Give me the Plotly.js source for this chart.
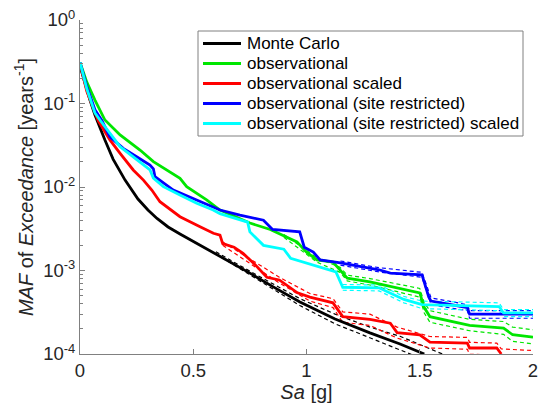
<!DOCTYPE html>
<html>
<head>
<meta charset="utf-8">
<script src="https://cdn.plot.ly/plotly-3.0.1.min.js"></script>
<style>html,body{margin:0;padding:0;background:#fff;}#chart{width:542px;height:406px;}</style>
</head>
<body>
<div id="chart"></div>
<script>
// ---- Data (Sa [g] vs MAF of exceedance) ----
const seriesNames = ["Monte Carlo", "observational", "observational scaled",
  "observational (site restricted)", "observational (site restricted) scaled"];
const seriesColors = ["#000000", "#00e600", "#ff0000", "#0000ff", "#00ffff"];

// Monte Carlo
const mcX = [0, 0.022, 0.044, 0.066, 0.088, 0.11, 0.146, 0.199, 0.256, 0.3, 0.34, 0.389, 0.4415, 0.53, 0.64, 0.75, 0.861, 0.971, 1.126, 1.28, 1.413, 1.52];
const mcY = [0.28, 0.171, 0.11, 0.0728, 0.0509, 0.0366, 0.0216, 0.0121, 0.00718, 0.0053, 0.0042, 0.00332, 0.00274, 0.00202, 0.00137, 0.00093, 0.00062, 0.00042, 0.000263, 0.000179, 0.000132, 0.0001];
const mcCiX = [0.6, 0.75, 0.971, 1.126, 1.28, 1.413, 1.6];
const mcUp = [0.00168, 0.00098, 0.00046, 0.0003, 0.00021, 0.000163, 0.0001];
const mcLo = [0.00158, 0.00088, 0.00038, 0.00023, 0.000155, 0.000112, 0.00007];

// observational
const obsX = [0, 0.03, 0.066, 0.11, 0.177, 0.265, 0.324, 0.4415, 0.471, 0.559, 0.618, 0.75, 0.84, 0.958, 1.0, 1.046, 1.117, 1.148, 1.18, 1.28, 1.426, 1.5, 1.52, 1.545, 1.72, 1.87, 1.91, 2.0];
const obsY = [0.31, 0.18, 0.11, 0.0634, 0.042, 0.0277, 0.0201, 0.0127, 0.0101, 0.007, 0.0053, 0.0037, 0.0031, 0.0022, 0.00166, 0.00134, 0.00126, 0.00102, 0.00081, 0.00073, 0.00059, 0.00054, 0.00036, 0.00028, 0.00022, 0.000204, 0.00017, 0.000159];
const obsCiX = [0.9, 1.0, 1.046, 1.148, 1.18, 1.28, 1.426, 1.5, 1.52, 1.545, 1.72, 1.87, 1.91, 2.0];
const obsUp = [0.0027, 0.00175, 0.00142, 0.00109, 0.00088, 0.0008, 0.00066, 0.00061, 0.00041, 0.00033, 0.00026, 0.000245, 0.00021, 0.000195];
const obsLo = [0.0025, 0.00157, 0.00126, 0.00095, 0.00075, 0.00067, 0.00053, 0.00048, 0.00031, 0.00024, 0.00019, 0.000172, 0.000142, 0.000132];

// observational scaled
const scX = [0, 0.03, 0.081, 0.132, 0.177, 0.235, 0.28, 0.317, 0.353, 0.4415, 0.53, 0.589, 0.618, 0.63, 0.68, 0.72, 0.77, 0.825, 0.88, 0.96, 1.015, 1.117, 1.16, 1.28, 1.37, 1.4, 1.5, 1.545, 1.71, 1.72, 1.84, 1.86];
const scY = [0.3, 0.14, 0.062, 0.0366, 0.0253, 0.016, 0.0121, 0.0092, 0.00667, 0.00441, 0.00335, 0.00279, 0.00265, 0.0021, 0.0019, 0.0016, 0.0012, 0.00083, 0.00077, 0.00054, 0.00048, 0.00041, 0.00028, 0.00026, 0.000234, 0.00018, 0.00017, 0.000139, 0.000135, 0.000118, 0.000118, 0.0001];
const scCiX = [0.63, 0.77, 0.88, 1.015, 1.117, 1.16, 1.28, 1.4, 1.545, 1.71, 1.72, 1.84, 1.86, 2.0];
const scUp = [0.0022, 0.00127, 0.00083, 0.00053, 0.00046, 0.00032, 0.0003, 0.00021, 0.000162, 0.000158, 0.000138, 0.000135, 0.000115, 0.00011];
const scLo = [0.002, 0.00113, 0.00071, 0.00043, 0.00036, 0.00024, 0.00022, 0.000155, 0.000118, 0.000114, 0.000099, 0.000098, 0.00008, 0.00008];

// observational (site restricted)
const srX = [0, 0.03, 0.066, 0.096, 0.132, 0.191, 0.25, 0.309, 0.324, 0.331, 0.412, 0.5, 0.589, 0.618, 0.706, 0.81, 0.85, 0.97, 0.99, 1.03, 1.06, 1.15, 1.32, 1.37, 1.51, 1.54, 1.55, 1.71, 1.72, 2.0];
const srY = [0.31, 0.16, 0.084, 0.063, 0.0399, 0.029, 0.023, 0.0183, 0.0165, 0.0133, 0.0092, 0.0073, 0.0058, 0.0053, 0.0046, 0.0040, 0.0031, 0.0029, 0.0019, 0.00166, 0.00134, 0.00123, 0.00102, 0.00093, 0.00089, 0.00048, 0.00043, 0.00036, 0.0003, 0.0003];
const srCiX = [1.15, 1.32, 1.51, 1.55, 1.71, 1.72, 2.0];
const srUp = [0.0013, 0.00108, 0.00095, 0.00047, 0.00039, 0.00033, 0.00033];
const srLo = [0.00116, 0.00096, 0.00083, 0.00039, 0.00033, 0.000268, 0.000268];

// observational (site restricted) scaled
const ssX = [0, 0.03, 0.066, 0.088, 0.177, 0.235, 0.309, 0.324, 0.368, 0.4415, 0.515, 0.588, 0.618, 0.74, 0.75, 0.81, 0.9, 0.93, 1.06, 1.13, 1.16, 1.32, 1.43, 1.51, 1.85, 1.87, 2.0];
const ssY = [0.31, 0.15, 0.077, 0.0634, 0.0304, 0.023, 0.016, 0.0128, 0.0101, 0.0080, 0.00638, 0.0053, 0.0048, 0.0038, 0.0029, 0.0020, 0.0018, 0.0014, 0.0011, 0.00096, 0.00063, 0.00062, 0.00045, 0.00039, 0.00037, 0.00031, 0.00031];
const ssCiX = [1.16, 1.32, 1.43, 1.51, 1.85, 1.87, 2.0];
const ssUp = [0.00068, 0.00067, 0.00049, 0.00043, 0.00041, 0.00034, 0.00034];
const ssLo = [0.00058, 0.00057, 0.00041, 0.00035, 0.00033, 0.00028, 0.00028];

const yTickVals = [1e-4, 1e-3, 1e-2, 1e-1, 1];
const yTickText = ["10<sup>-4</sup>", "10<sup>-3</sup>", "10<sup>-2</sup>", "10<sup>-1</sup>", "10<sup>0</sup>"];
const xTickVals = [0, 0.5, 1, 1.5, 2];
const xTickText = ["0", "0.5", "1", "1.5", "2"];

// ---- Build traces ----
const mains = [[mcX, mcY], [obsX, obsY], [scX, scY], [srX, srY], [ssX, ssY]];
const cis = [[mcCiX, mcUp, mcLo], [obsCiX, obsUp, obsLo], [scCiX, scUp, scLo], [srCiX, srUp, srLo], [ssCiX, ssUp, ssLo]];
const traces = [];
cis.forEach((c, i) => {
  [c[1], c[2]].forEach(b => traces.push({
    x: c[0], y: b, type: "scatter", mode: "lines", showlegend: false, hoverinfo: "skip",
    line: {color: seriesColors[i], width: 1.2, dash: "4px,3px"}
  }));
});
mains.forEach((m, i) => traces.push({
  x: m[0], y: m[1], type: "scatter", mode: "lines", name: seriesNames[i], showlegend: false,
  line: {color: seriesColors[i], width: 2.8}
}));

const minorVals = [];
for (let e = -4; e < 0; e++) for (let k = 2; k <= 9; k++) minorVals.push(k * Math.pow(10, e));

// ---- Legend box (drawn with paper-referenced shapes/annotations to match spacing) ----
const W = 542, H = 406, ML = 80, MR = 9, MT = 20, MB = 52;
const pw = W - ML - MR, ph = H - MT - MB;
const px2x = p => (p - ML) / pw, py2y = p => (H - MB - p) / ph;
const legBox = {x0: 198, x1: 523, y0: 31, y1: 136};
const legRow0 = 43.5, legRowStep = 20, legLineX0 = 203, legLineX1 = 241, legTextX = 245;
const shapes = [{
  type: "rect", xref: "paper", yref: "paper", layer: "above",
  x0: px2x(legBox.x0), x1: px2x(legBox.x1), y0: py2y(legBox.y1), y1: py2y(legBox.y0),
  line: {color: "#808080", width: 1}, fillcolor: "#ffffff"
}];
const annotations = [];
seriesNames.forEach((n, i) => {
  const yy = py2y(legRow0 + i * legRowStep);
  shapes.push({type: "line", xref: "paper", yref: "paper", layer: "above",
    x0: px2x(legLineX0), x1: px2x(legLineX1), y0: yy, y1: yy,
    line: {color: seriesColors[i], width: 2.8}});
  annotations.push({xref: "paper", yref: "paper", x: px2x(legTextX), y: yy,
    xanchor: "left", yanchor: "middle", showarrow: false, text: n,
    font: {size: 17, color: "#000"}});
});

const font = "Liberation Sans, Arial, sans-serif";
const layout = {
  width: W, height: H,
  margin: {l: ML, r: MR, t: MT, b: MB},
  paper_bgcolor: "#fff", plot_bgcolor: "#fff",
  font: {family: font, color: "#262626"},
  showlegend: false,
  xaxis: {
    range: [0, 2], tickmode: "array", tickvals: xTickVals, ticktext: xTickText,
    ticks: "inside", ticklen: 5, tickcolor: "#808080", showline: true, linecolor: "#808080",
    showgrid: false, zeroline: false, tickfont: {size: 18.5, color: "#262626"},
    title: {text: "<i>Sa</i> [g]", font: {size: 20, color: "#262626"}, standoff: 2},
    automargin: false
  },
  yaxis: {
    type: "log", range: [-4, 0], tickmode: "array", tickvals: yTickVals, ticktext: yTickText,
    ticks: "inside", ticklen: 5, tickcolor: "#808080", showline: true, linecolor: "#808080",
    showgrid: false, zeroline: false, tickfont: {size: 18.5, color: "#262626"},
    minor: {tickmode: "array", tickvals: minorVals, ticks: "inside", ticklen: 3, tickcolor: "#808080", showgrid: false},
    title: {text: "<i>MAF</i> of <i>Exceedance</i> [years<sup>-1</sup>]", font: {size: 20, color: "#262626"}, standoff: 4},
    automargin: false
  },
  shapes: shapes,
  annotations: annotations
};

Plotly.newPlot("chart", traces, layout, {displayModeBar: false, staticPlot: true});
</script>
</body>
</html>
